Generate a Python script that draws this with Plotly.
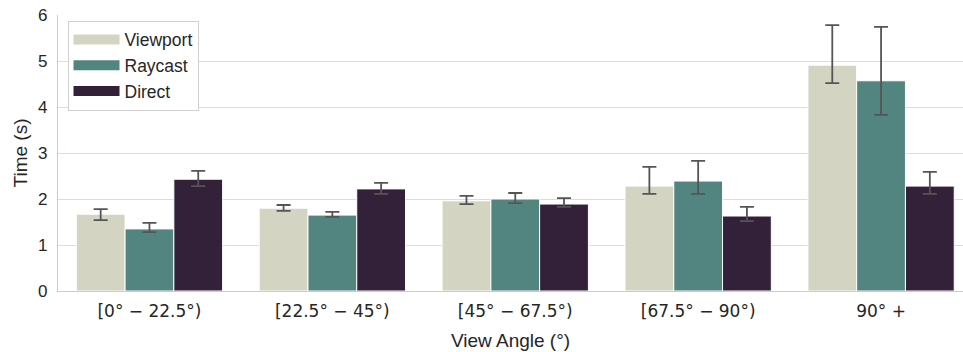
import plotly.graph_objects as go

categories = ["[0° − 22.5°)", "[22.5° − 45°)", "[45° − 67.5°)", "[67.5° − 90°)", "90° +"]
series_names = ["Viewport", "Raycast", "Direct"]
viewport = [1.67, 1.80, 1.96, 2.28, 4.91]
viewport_hi = [1.78, 1.87, 2.07, 2.70, 5.78]
viewport_lo = [1.54, 1.74, 1.89, 2.11, 4.52]
raycast = [1.35, 1.65, 2.00, 2.39, 4.57]
raycast_hi = [1.48, 1.72, 2.13, 2.83, 5.74]
raycast_lo = [1.28, 1.61, 1.91, 2.11, 3.83]
direct = [2.43, 2.22, 1.89, 1.63, 2.28]
direct_hi = [2.61, 2.35, 2.02, 1.83, 2.59]
direct_lo = [2.28, 2.11, 1.83, 1.52, 2.11]
y_ticks = [0, 1, 2, 3, 4, 5, 6]

colors = ["#d3d4c1", "#528580", "#322138"]
values = [viewport, raycast, direct]
his = [viewport_hi, raycast_hi, direct_hi]
los = [viewport_lo, raycast_lo, direct_lo]

fig = go.Figure()
for name, v, hi, lo, c in zip(series_names, values, his, los, colors):
    fig.add_trace(go.Bar(
        x=categories, y=v, name=name, showlegend=False,
        marker=dict(color=c, line=dict(color="white", width=1)),
        error_y=dict(type="data", symmetric=False,
                     array=[h - m for h, m in zip(hi, v)],
                     arrayminus=[m - l for m, l in zip(v, lo)],
                     color="#555555", thickness=1.8, width=7),
    ))
for name, c in zip(series_names, colors):
    fig.add_trace(go.Scatter(x=[None], y=[None], mode="lines", name=name,
                             line=dict(color=c, width=12)))

fig.update_layout(
    width=963, height=352,
    margin=dict(l=57.5, r=0, t=15, b=61),
    paper_bgcolor="white", plot_bgcolor="white",
    barmode="group", bargap=0.2, bargroupgap=0,
    font=dict(family="Liberation Sans, Arial", color="#262626", size=17),
    legend=dict(x=0.0105, y=0.98, xanchor="left", yanchor="top",
                bordercolor="#d0d0d0", borderwidth=1, bgcolor="white",
                font=dict(size=17.5, color="#262626"), tracegroupgap=0,
                itemwidth=46),
    xaxis=dict(range=[-0.5, 4.448], showgrid=False, showline=True,
               linecolor="#cccccc", linewidth=1.2, ticks="", automargin=False,
               tickfont=dict(family="DejaVu Sans", size=17), ticklabelstandoff=4,
               title=dict(text="View Angle (°)", font=dict(size=19), standoff=14)),
    yaxis=dict(range=[0, 6], tickvals=y_ticks, showgrid=True, automargin=False,
               gridcolor="#dcdcdc", gridwidth=1.2, showline=True,
               linecolor="#cccccc", linewidth=1.2, ticks="", zeroline=False,
               tickfont=dict(size=17), ticklabelstandoff=6,
               title=dict(text="Time (s)", font=dict(size=19), standoff=5)),
)

fig.write_html("out.html", config={"displayModeBar": False},
               post_script="document.body.style.margin='0';document.body.style.overflow='hidden';")
